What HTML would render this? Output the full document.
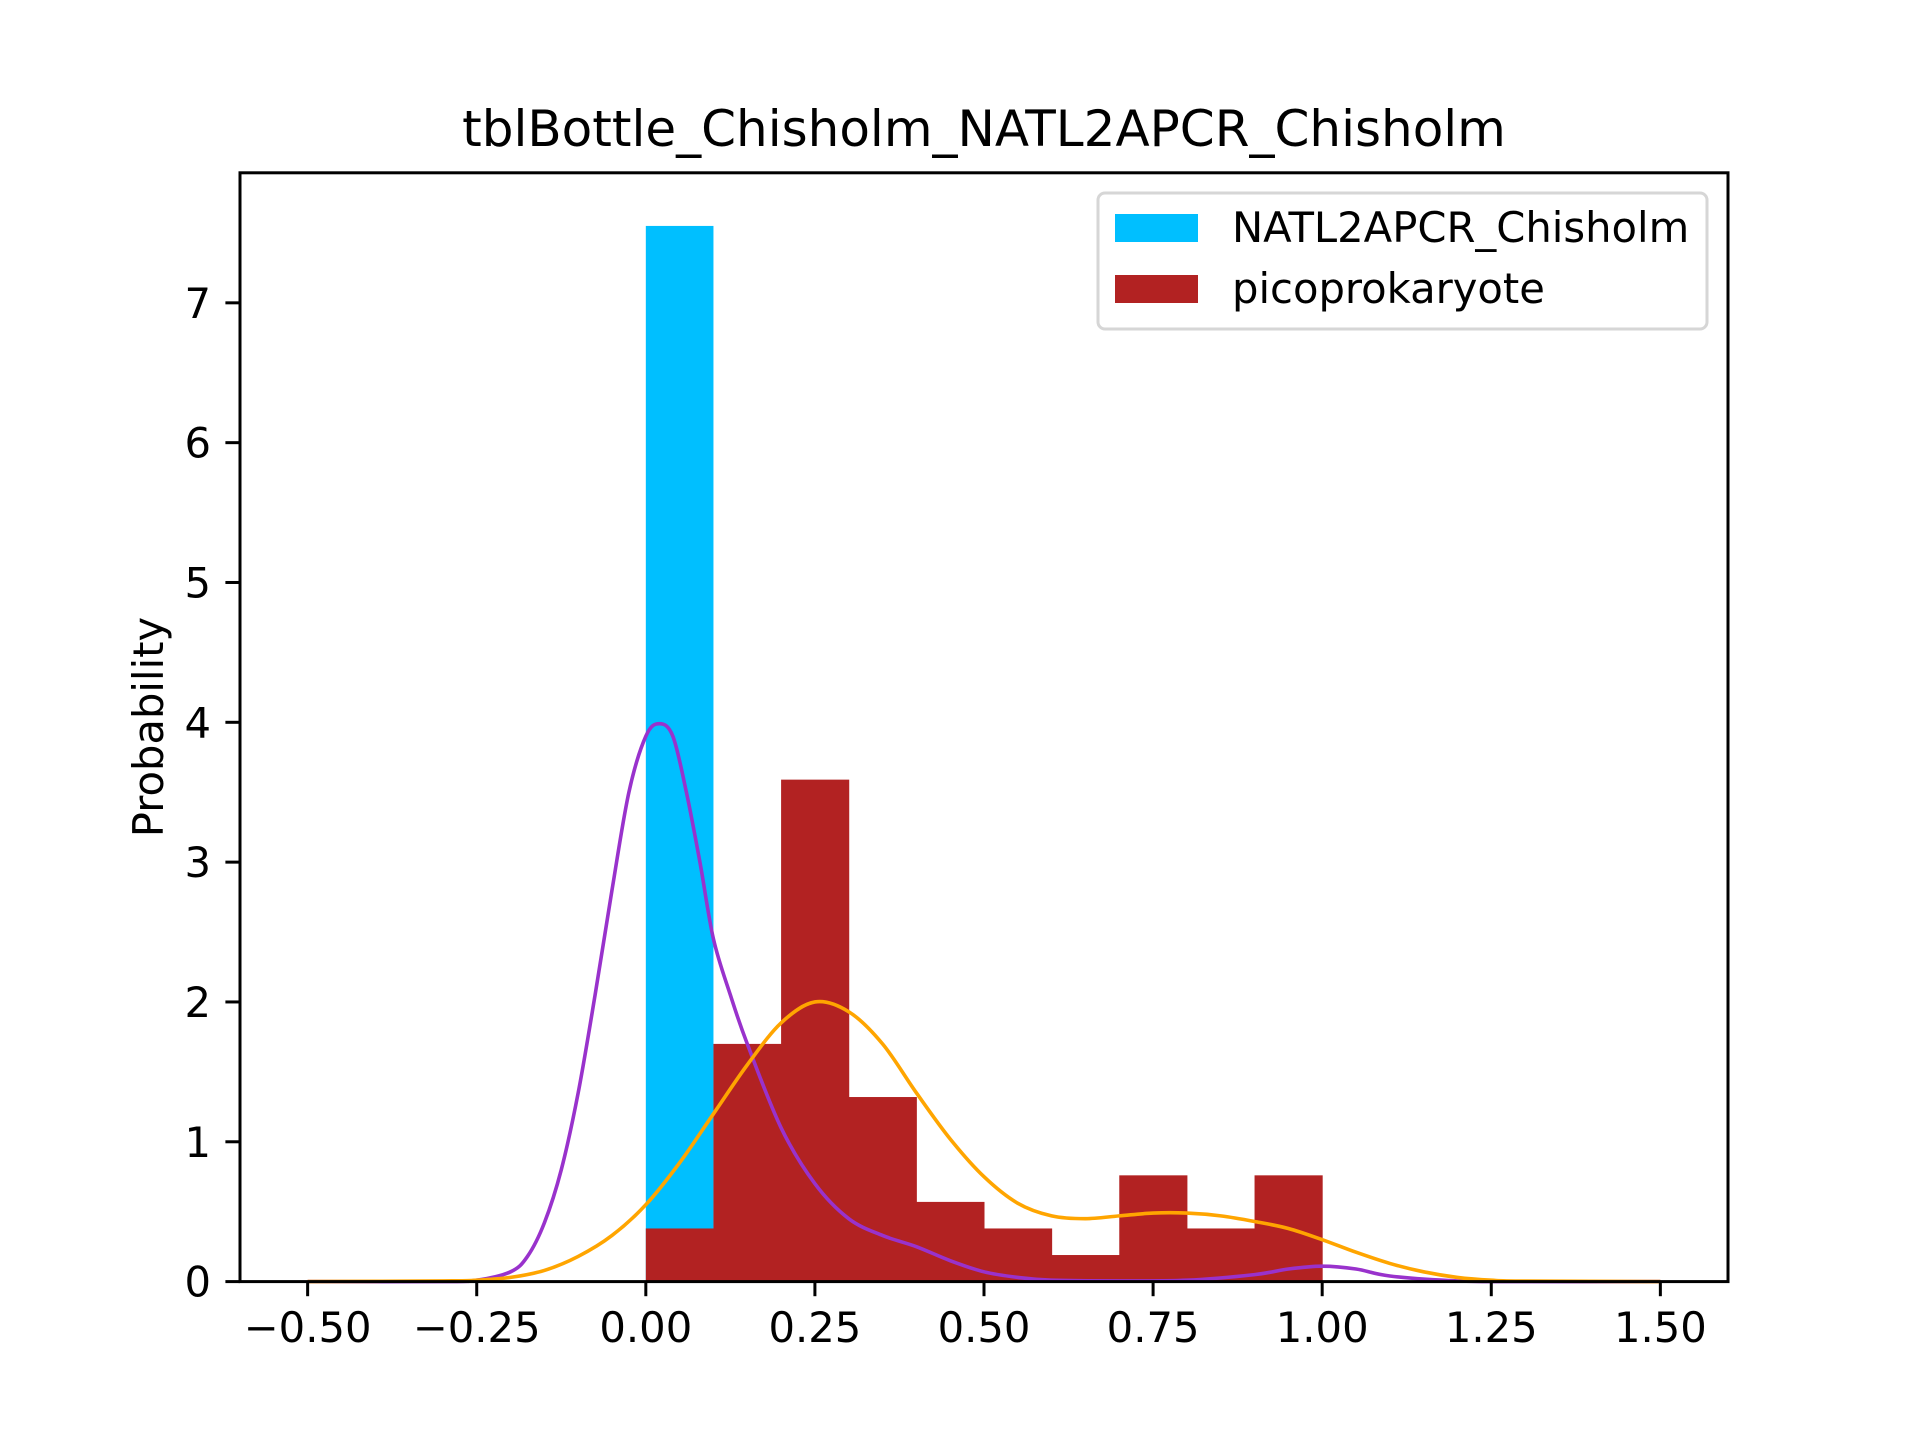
<!DOCTYPE html>
<html><head><meta charset="utf-8"><style>
body{margin:0;background:#fff}
svg{display:block;font-family:"DejaVu Sans","Liberation Sans",sans-serif}
</style></head><body>
<svg id="chart" width="1920" height="1440" viewBox="0 0 1920 1440">
<rect width="1920" height="1440" fill="#fff"/>
<g id="plot"></g>
</svg>
<script>
const binEdges=[0,0.1,0.2,0.3,0.4,0.5,0.6,0.7,0.8,0.9,1.0];
const blueHeights=[7.55];
const blueEdges=[0,0.1];
const redHeights=[0.38,1.70,3.59,1.32,0.57,0.38,0.19,0.76,0.38,0.76];
const purpleX=[-0.5,-0.3,-0.25,-0.2,-0.175,-0.15,-0.125,-0.1,-0.075,-0.05,-0.025,0,0.02,0.04,0.06,0.08,0.1,0.125,0.15,0.2,0.25,0.3,0.35,0.4,0.45,0.5,0.55,0.6,0.7,0.8,0.9,0.95,1.0,1.05,1.1,1.2,1.3,1.5];
const purpleY=[0,0,0.01,0.07,0.18,0.42,0.8,1.35,2.05,2.8,3.5,3.9,3.99,3.9,3.5,3.0,2.45,2.05,1.7,1.1,0.7,0.45,0.33,0.25,0.15,0.07,0.03,0.01,0.005,0.01,0.05,0.09,0.11,0.09,0.04,0.005,0,0];
const orangeX=[-0.5,-0.3,-0.25,-0.2,-0.15,-0.1,-0.05,0,0.05,0.1,0.15,0.2,0.25,0.3,0.35,0.4,0.45,0.5,0.55,0.6,0.65,0.7,0.75,0.8,0.85,0.9,0.95,1.0,1.05,1.1,1.15,1.2,1.25,1.3,1.5];
const orangeY=[0,0.005,0.01,0.03,0.08,0.18,0.33,0.55,0.85,1.2,1.55,1.85,2.0,1.93,1.7,1.35,1.02,0.75,0.56,0.47,0.45,0.47,0.49,0.49,0.47,0.43,0.38,0.3,0.21,0.13,0.07,0.03,0.01,0.004,0];
const xTicks=[-0.5,-0.25,0,0.25,0.5,0.75,1.0,1.25,1.5];
const xTickLabels=["−0.50","−0.25","0.00","0.25","0.50","0.75","1.00","1.25","1.50"];
const yTicks=[0,1,2,3,4,5,6,7];
const yTickLabels=["0","1","2","3","4","5","6","7"];

const L=240,R=1728,T=172.8,B=1281.6,xmin=-0.6,xmax=1.6,ymax=7.93;
const sx=v=>L+(v-xmin)/(xmax-xmin)*(R-L);
const sy=v=>B-v/ymax*(B-T);
const NS="http://www.w3.org/2000/svg";
const g=document.getElementById('plot');
function mk(tag,attrs,parent){const e=document.createElementNS(NS,tag);for(const k in attrs)e.setAttribute(k,attrs[k]);(parent||g).appendChild(e);return e;}

for(let i=0;i<blueHeights.length;i++){
  const r=mk('rect',{x:sx(blueEdges[i]),y:sy(blueHeights[i]),width:sx(blueEdges[i+1])-sx(blueEdges[i]),height:B-sy(blueHeights[i]),fill:'#00bfff'});
  
  
}
for(let i=0;i<redHeights.length;i++){
  const r=mk('rect',{x:sx(binEdges[i]),y:sy(redHeights[i]),width:sx(binEdges[i+1])-sx(binEdges[i])+0.5,height:B-sy(redHeights[i]),fill:'#b22222'});
  
  
}
function smooth(xs,ys){
  const p=xs.map((x,i)=>[sx(x),sy(ys[i])]);
  let d='M'+p[0][0]+','+p[0][1];
  for(let i=0;i<p.length-1;i++){
    const p0=p[Math.max(0,i-1)],p1=p[i],p2=p[i+1],p3=p[Math.min(p.length-1,i+2)];
    const c1=[p1[0]+(p2[0]-p0[0])/6,p1[1]+(p2[1]-p0[1])/6];
    const c2=[p2[0]-(p3[0]-p1[0])/6,p2[1]-(p3[1]-p1[1])/6];
    d+=' C'+c1[0]+','+c1[1]+' '+c2[0]+','+c2[1]+' '+p2[0]+','+p2[1];
  }
  return d;
}
const pl=mk('path',{d:smooth(purpleX,purpleY),fill:'none',stroke:'#9932cc','stroke-width':3.6});


const ol=mk('path',{d:smooth(orangeX,orangeY),fill:'none',stroke:'#ffa500','stroke-width':3.6});



const frame=mk('rect',{x:L,y:T,width:R-L,height:B-T,fill:'none',stroke:'#000','stroke-width':3});



xTicks.forEach((v,i)=>{
  mk('line',{x1:sx(v),x2:sx(v),y1:B,y2:B+14.6,stroke:'#000','stroke-width':3});
  const t=mk('text',{x:sx(v),y:1342,'font-size':41.7,'text-anchor':'middle'});
  t.textContent=xTickLabels[i];
  
  
});
yTicks.forEach((v,i)=>{
  mk('line',{x1:L-14.6,x2:L,y1:sy(v),y2:sy(v),stroke:'#000','stroke-width':3});
  const t=mk('text',{x:L-29,y:sy(v)+15,'font-size':41.7,'text-anchor':'end'});
  t.textContent=yTickLabels[i];
  
  
});
</script>
<svg style="position:absolute;left:0;top:0" width="1920" height="1440">
<text x="984" y="146" font-size="50" text-anchor="middle" font-family="DejaVu Sans, Liberation Sans, sans-serif">tblBottle_Chisholm_NATL2APCR_Chisholm</text>
<text transform="translate(163,727) rotate(-90)" font-size="41.7" text-anchor="middle" font-family="DejaVu Sans, Liberation Sans, sans-serif">Probability</text>
<g>
<rect x="1098" y="193" width="609" height="136" rx="7" fill="#fff" fill-opacity="0.8" stroke="#d6d6d6" stroke-width="3"/>
<rect x="1115" y="214" width="83" height="28" fill="#00bfff"/>
<text x="1232" y="242" font-size="41.7" font-family="DejaVu Sans, Liberation Sans, sans-serif">NATL2APCR_Chisholm</text>
<rect x="1115" y="275" width="83" height="28" fill="#b22222"/>
<text x="1232" y="303" font-size="41.7" font-family="DejaVu Sans, Liberation Sans, sans-serif">picoprokaryote</text>
</g>
</svg>
</body></html>
